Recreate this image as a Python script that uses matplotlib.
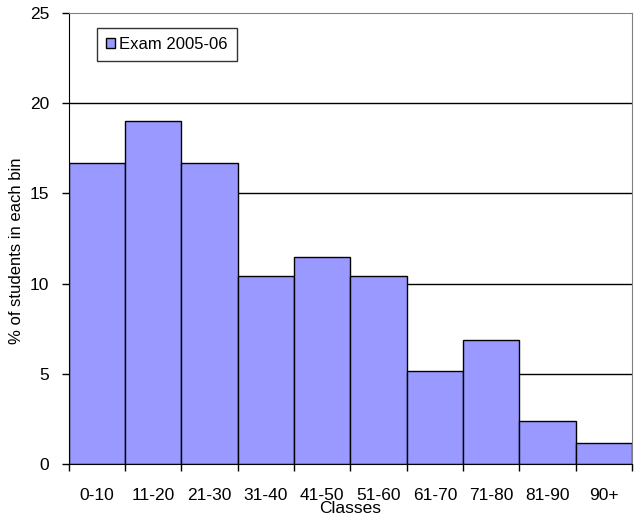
import matplotlib
matplotlib.use("Agg")
import matplotlib.pyplot as plt
import numpy as np

plt.rcParams['font.family'] = ['Liberation Sans', 'DejaVu Sans']

classes = ['0-10', '11-20', '21-30', '31-40', '41-50', '51-60',
           '61-70', '71-80', '81-90', '90+']
percent = [16.7, 19.0, 16.7, 10.4, 11.5, 10.4, 5.15, 6.9, 2.4, 1.15]

fig = plt.figure(figsize=(6.37, 5.24), dpi=100)
ax = fig.add_axes([0.108, 0.1145, 0.884, 0.8605])

x = np.arange(len(classes))
for y in [5, 10, 15, 20]:
    ax.axhline(y, color='black', lw=1, zorder=1)
ax.bar(x, percent, width=1.0, color='#9999ff', edgecolor='black', lw=1,
       zorder=2, label='Exam 2005-06')

ax.set_xlim(-0.5, len(classes) - 0.5)
ax.set_ylim(0, 25)
ax.set_yticks([0, 5, 10, 15, 20, 25])
ax.set_xticks(x)
ax.set_xticklabels(classes, fontsize=12.5)
ax.set_xticks(np.arange(len(classes) + 1) - 0.5, minor=True)
ax.tick_params(axis='x', which='major', length=0, pad=17)
ax.tick_params(axis='x', which='minor', length=5, direction='out', width=1)
ax.tick_params(axis='y', length=5, direction='out', width=1, labelsize=12.5,
               pad=9)
for s in ['top', 'right']:
    ax.spines[s].set_color('#808080')
for s in ['left', 'bottom']:
    ax.spines[s].set_color('black')

ax.set_xlabel('Classes', fontsize=12.5, labelpad=-1)
ax.set_ylabel('% of students in each bin', fontsize=12)
ax.yaxis.set_label_coords(-0.08, 0.472)

leg = ax.legend(loc='upper left', bbox_to_anchor=(0.05, 0.967), fontsize=12,
                frameon=True, fancybox=False, edgecolor='black',
                handlelength=0.55, handleheight=0.55, handletextpad=0.25,
                borderpad=0.55, borderaxespad=0)
leg.get_frame().set_linewidth(1)

fig.savefig('out.png', dpi=100)
